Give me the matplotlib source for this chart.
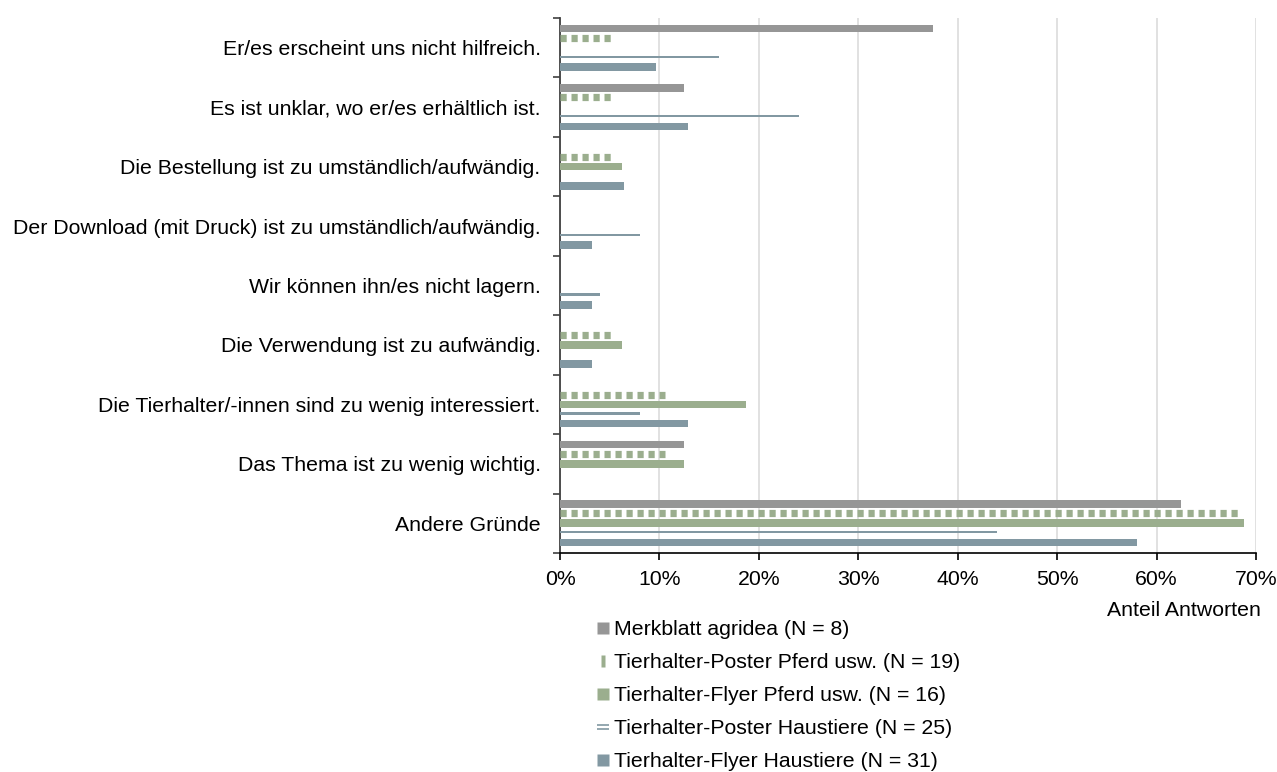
import matplotlib
matplotlib.use("Agg")
import matplotlib.pyplot as plt
import numpy as np
from matplotlib.lines import Line2D
from matplotlib.path import Path
from matplotlib.ticker import FixedLocator, PercentFormatter

plt.rcParams["font.family"] = ["Liberation Sans", "DejaVu Sans"]
plt.rcParams["lines.scale_dashes"] = False

categories = [
    "Er/es erscheint uns nicht hilfreich.",
    "Es ist unklar, wo er/es erhältlich ist.",
    "Die Bestellung ist zu umständlich/aufwändig.",
    "Der Download (mit Druck) ist zu umständlich/aufwändig.",
    "Wir können ihn/es nicht lagern.",
    "Die Verwendung ist zu aufwändig.",
    "Die Tierhalter/-innen sind zu wenig interessiert.",
    "Das Thema ist zu wenig wichtig.",
    "Andere Gründe",
]

series_labels = [
    "Merkblatt agridea (N = 8)",
    "Tierhalter-Poster Pferd usw. (N = 19)",
    "Tierhalter-Flyer Pferd usw. (N = 16)",
    "Tierhalter-Poster Haustiere (N = 25)",
    "Tierhalter-Flyer Haustiere (N = 31)",
]

merkblatt = [37.5, 12.5, 0, 0, 0, 0, 0, 12.5, 62.5]
poster_pferd = [5.26, 5.26, 5.26, 0, 0, 5.26, 10.53, 10.53, 68.42]
flyer_pferd = [0, 0, 6.25, 0, 0, 6.25, 18.75, 12.5, 68.75]
poster_haus = [16, 24, 0, 8, 4, 0, 8, 0, 44]
flyer_haus = [9.68, 12.9, 6.45, 3.23, 3.23, 3.23, 12.9, 0, 58.06]

x_ticks = [0, 10, 20, 30, 40, 50, 60, 70]

GRAY = "#969696"
GREEN = "#9bae8e"
BLUE = "#8298a2"

W, H, DPI = 1277, 772, 100
fig = plt.figure(figsize=(W / DPI, H / DPI), dpi=DPI)
ax = fig.add_axes([560 / W, 1 - 553 / H, 696 / W, 535 / H])

y = np.arange(len(categories))
bh = 0.13
px = 72 / DPI  # points per pixel

ax.barh(y - 0.323, merkblatt, height=bh, color=GRAY, zorder=3)
# dotted series: square dashes along the bar
ax.hlines(y - 0.165, 0, poster_pferd, colors=GREEN, linewidth=7.2 * px,
          linestyles=[(0, (6.2 * px, 4.8 * px))], zorder=3, capstyle="butt")
ax.barh(y, flyer_pferd, height=bh, color=GREEN, zorder=3)
ax.barh(y + 0.152, poster_haus, height=0.038, color=BLUE, zorder=3)
ax.barh(y + 0.323, flyer_haus, height=bh, color=BLUE, zorder=3)

ax.set_xlim(0, 70)
ax.set_ylim(len(categories) - 0.5, -0.5)

ax.set_xticks(x_ticks)
ax.xaxis.set_major_formatter(PercentFormatter(decimals=0))
ax.grid(axis="x", color="#d9d9d9", linewidth=1.1, zorder=0)
ax.set_axisbelow(True)

ax.set_yticks(y)
ax.set_yticklabels(categories)
ax.yaxis.set_minor_locator(FixedLocator(np.arange(-0.5, len(categories), 1.0)))
ax.tick_params(axis="y", which="major", length=0, pad=14, labelsize=15.3)
ax.tick_params(axis="y", which="minor", length=5, width=1.2, color="#404040")
ax.tick_params(axis="x", which="major", length=5, width=1.2, color="black",
               pad=7.5, labelsize=15.3)

for s in ("top", "right"):
    ax.spines[s].set_visible(False)
ax.spines["left"].set_color("#404040")
ax.spines["left"].set_linewidth(1.3)
ax.spines["bottom"].set_color("black")
ax.spines["bottom"].set_linewidth(1.2)

fig.text(1261 / W, 1 - 610 / H, "Anteil Antworten", ha="right", va="center",
         fontsize=15.3)

# legend handles
dot_marker = Path([(-0.28, -1), (0.28, -1), (0.28, 1), (-0.28, 1), (-0.28, -1)],
                  [Path.MOVETO, Path.LINETO, Path.LINETO, Path.LINETO, Path.CLOSEPOLY])
eq_marker = Path([(-1, -0.35), (1, -0.35), (-1, 0.35), (1, 0.35)],
                 [Path.MOVETO, Path.LINETO, Path.MOVETO, Path.LINETO])
handles = [
    Line2D([], [], ls="none", marker="s", markersize=8.8, color=GRAY, mec="none"),
    Line2D([], [], ls="none", marker=dot_marker, markersize=9.2, color=GREEN, mec="none"),
    Line2D([], [], ls="none", marker="s", markersize=8.8, color=GREEN, mec="none"),
    Line2D([], [], ls="none", marker=eq_marker, markersize=9.2, color=BLUE,
           mec=BLUE, mew=1.2, fillstyle="none"),
    Line2D([], [], ls="none", marker="s", markersize=8.8, color=BLUE, mec="none"),
]
fig.legend(handles, series_labels, loc="upper left",
           bbox_to_anchor=(594 / W, 1 - 620 / H), frameon=False,
           fontsize=15.3, handlelength=0.8, handletextpad=0.15,
           labelspacing=0.66, borderpad=0, borderaxespad=0)

fig.savefig("out.png", dpi=DPI)
